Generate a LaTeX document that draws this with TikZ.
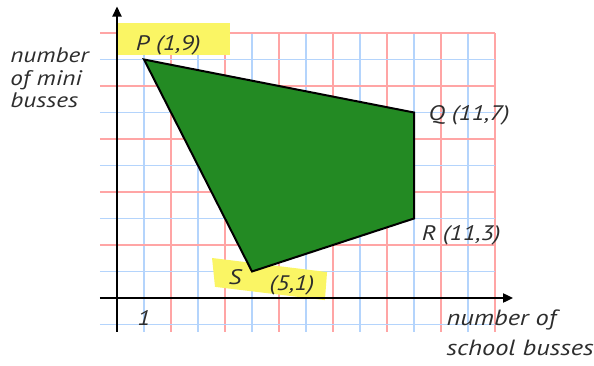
\documentclass[tikz,border=0pt]{standalone}
\usepackage{fontspec}
\newfontfamily\handfont{PT Sans}[FakeStretch=1.2]
\usetikzlibrary{arrows.meta}
\definecolor{gridred}{RGB}{255,165,165}
\definecolor{gridblue}{RGB}{180,212,252}
\definecolor{crayon}{RGB}{35,138,35}
\definecolor{marker}{RGB}{250,245,100}
\definecolor{ink}{RGB}{45,45,45}
\tikzset{
  axisline/.style={line width=2pt,-{Triangle[length=10pt,width=9pt]}},
  edge/.style={line width=2pt,line join=miter},
  gridline/.style={line width=1.2pt},
  hand/.style={font=\fontsize{21}{22}\selectfont\handfont\itshape,text=ink,inner sep=1pt},
  axislabel/.style={font=\fontsize{21}{22.5}\selectfont\handfont\itshape,text=ink,align=left,inner sep=0pt}
}
\begin{document}
\begin{tikzpicture}[x=27pt,y=26.5pt]
        \useasboundingbox (-117pt,-67pt) rectangle (477pt,298pt);

        % grid
        \foreach \i in {1,3,...,13} \draw[gridline,gridblue] (\i,-1.28) -- (\i,10);
        \foreach \i in {2,4,...,14} \draw[gridline,gridred] (\i,-1.28) -- (\i,10);
        \foreach \j in {-1,1,3,...,9} \draw[gridline,gridblue] (-0.63,\j) -- (14,\j);
        \foreach \j in {2,4,...,10} \draw[gridline,gridred] (-0.63,\j) -- (14,\j);

        % highlights
        \fill[marker] (0.04,9.17) rectangle (4.19,10.38);
        \fill[marker] (3.52,1.51) -- (7.78,0.98) -- (7.70,-0.08) -- (3.63,0.42) -- cycle;

        % feasible region
        \coordinate (P) at (1,9);
        \coordinate (Q) at (11,7);
        \coordinate (R) at (11,3);
        \coordinate (S) at (5,1);
        \fill[crayon] (P) -- (Q) -- (R) -- (S) -- cycle;
        \draw[edge] (P) -- (Q) -- (R) -- (S) -- cycle;

        % axes
        \draw[axisline] (-0.63,0) -- (14.67,0);
        \draw[axisline] (0,-1.28) -- (0,11);

        % labels
        \node[hand] (labP) at (1.9,9.55) {P (1,9)};
        \node[hand,anchor=west] (labQ) at (11.5,6.9) {Q (11,7)};
        \node[hand,anchor=west] (labR) at (11.25,2.38) {R (11,3)};
        \node[hand] (labS) at (4.37,0.79) {S};
        \node[hand] (labSxy) at (6.48,0.49) {(5,1)};
        \node[hand] (one) at (1,-0.75) {1};
        \node[axislabel,anchor=west] (ylab) at (-3.96,8.3) {number\\of mini\\busses};
        \node[axislabel,anchor=west,font=\fontsize{22}{30}\selectfont\handfont\itshape] (xlab) at (12.2,-1.32) {number of\\school busses};
\end{tikzpicture}
\end{document}
